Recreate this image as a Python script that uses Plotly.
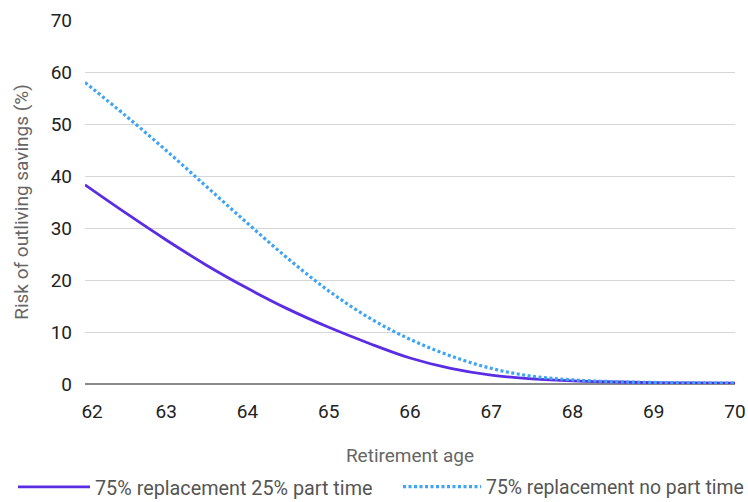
import plotly.graph_objects as go

ages = [62, 62.5, 63, 63.5, 64, 64.5, 65, 65.5, 66, 66.5, 67, 67.5, 68, 68.5, 69, 69.5, 70]
part_time_25 = [38.3, 32.9, 27.7, 22.8, 18.4, 14.4, 10.9, 7.8, 5.0, 3.0, 1.7, 1.0, 0.6, 0.4, 0.25, 0.2, 0.15]
no_part_time = [58.0, 51.6, 44.9, 37.9, 30.9, 24.1, 17.9, 12.7, 8.6, 5.4, 3.0, 1.5, 0.8, 0.45, 0.3, 0.2, 0.15]
x_ticks = [62, 63, 64, 65, 66, 67, 68, 69, 70]
x_tick_labels = ["62", "63", "64", "65", "66", "67", "68", "69", "70"]
y_ticks = [0, 10, 20, 30, 40, 50, 60, 70]

FONT = "Roboto"
W, H = 748, 502
NB = "\u00a0"

# first label is nudged inward, as in the reference
tick_text = list(x_tick_labels)
tick_text[0] = NB * 3 + tick_text[0]

fig = go.Figure()
fig.add_trace(go.Scatter(
    x=ages, y=part_time_25, mode="lines", name="75% replacement 25% part time",
    line=dict(color="#5a2de3", width=2.8, shape="spline", smoothing=1),
    legend="legend",
))
fig.add_trace(go.Scatter(
    x=ages, y=no_part_time, mode="lines", name="75% replacement no part time",
    line=dict(color="#3ea4f5", width=3.2, dash="3px,2.5px", shape="spline", smoothing=1),
    legend="legend2",
))

legend_common = dict(
    orientation="h", xanchor="left", xref="container",
    y=15 / H, yanchor="middle", yref="container",
    bgcolor="rgba(0,0,0,0)", borderwidth=0,
)

fig.update_layout(
    width=W, height=H,
    margin=dict(l=85, r=13, t=20, b=118),
    paper_bgcolor="white", plot_bgcolor="white",
    font=dict(family=FONT, size=19, color="#222222"),
    showlegend=True,
    legend=dict(x=13 / W, itemwidth=72, font=dict(size=19.8, color="#555555"), **legend_common),
    legend2=dict(x=398 / W, itemwidth=78, font=dict(size=19.4, color="#555555"), **legend_common),
    xaxis=dict(
        range=[62, 70], tickvals=x_ticks, ticktext=tick_text,
        showgrid=False, zeroline=False, showline=False, ticks="",
        tickfont=dict(size=19, color="#222222"),
        title=dict(text="Retirement age", font=dict(size=19, color="#666666"), standoff=27),
        ticklabelstandoff=14, ticklabeloverflow="allow", automargin=False,
    ),
    yaxis=dict(
        range=[0, 70], tickvals=y_ticks,
        showgrid=True, gridcolor="#d6d6d6", gridwidth=1,
        zeroline=True, zerolinecolor="#8a8a8a", zerolinewidth=1.5,
        showline=False, ticks="",
        tickfont=dict(size=19, color="#222222"),
        title=dict(text="Risk of outliving savings (%)", font=dict(size=19, color="#666666"), standoff=16),
        ticklabelstandoff=12, automargin=False,
    ),
)

fig.write_html(
    "out.html",
    config={"displayModeBar": False},
    post_script="document.body.style.margin='0';document.body.style.overflow='hidden';",
)
